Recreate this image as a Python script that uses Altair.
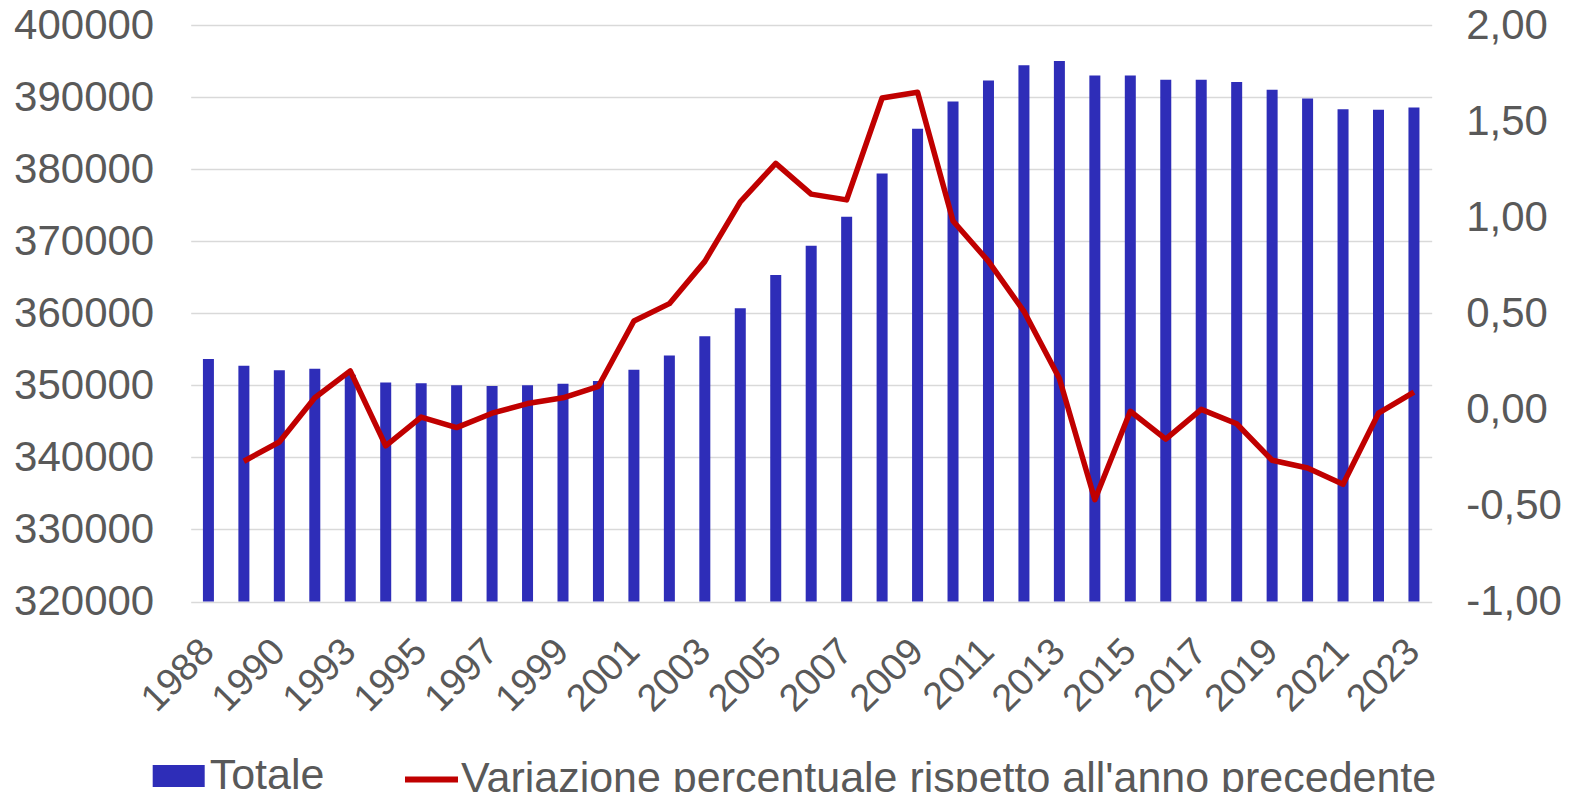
import altair as alt
import pandas as pd

# ---- data ----
anni = ["1988", "1989", "1990", "1991", "1993", "1994", "1995", "1996", "1997",
        "1998", "1999", "2000", "2001", "2002", "2003", "2004", "2005", "2006",
        "2007", "2008", "2009", "2010", "2011", "2012", "2013", "2014", "2015",
        "2016", "2017", "2018", "2019", "2020", "2021", "2022", "2023"]

totale = [353650, 352700, 352100, 352300, 351450, 350400, 350300, 350000, 349900,
          350000, 350200, 350600, 352150, 354150, 356800, 360700, 365300, 369350,
          373400, 379400, 385600, 389400, 392300, 394400, 395000, 393000, 393000,
          392400, 392400, 392100, 391000, 389800, 388300, 388250, 388550]

variazione = [None, -0.27, -0.17, 0.06, 0.20, -0.19, -0.04, -0.095, -0.02,
              0.03, 0.06, 0.12, 0.46, 0.55, 0.77, 1.08, 1.28, 1.12,
              1.09, 1.62, 1.65, 0.98, 0.77, 0.51, 0.16, -0.47, -0.01,
              -0.155, 0.0, -0.075, -0.265, -0.305, -0.39, -0.02, 0.09]

etichette_x = ["1988", "1990", "1993", "1995", "1997", "1999", "2001", "2003",
               "2005", "2007", "2009", "2011", "2013", "2015", "2017", "2019",
               "2021", "2023"]
tick_sx = [320000, 330000, 340000, 350000, 360000, 370000, 380000, 390000, 400000]
tick_dx = [-1.0, -0.5, 0.0, 0.5, 1.0, 1.5, 2.0]

serie_barre = "Totale"
serie_linea = "Variazione percentuale rispetto all'anno precedente"

df = pd.DataFrame({
    "anno": anni,
    "totale": totale,
    "variazione": variazione,
    "s1": serie_barre,
    "s2": serie_linea,
})

FONT = "Liberation Sans"
GREY = "#595959"
BLUE = "#2E2DB8"
RED = "#C00000"

x_enc = alt.X(
    "anno:O", sort=None,
    scale=alt.Scale(paddingInner=0, paddingOuter=0),
    axis=alt.Axis(values=etichette_x, labelAngle=315, labelAlign="right",
                  labelBaseline="middle", labelFontSize=38, labelColor=GREY,
                  labelFont=FONT, labelPadding=44, ticks=False, tickSize=0,
                  domain=False, grid=False, title=None, labelOverlap=False),
)

bars = alt.Chart(df).mark_bar(size=11, clip=True).encode(
    x=x_enc,
    y=alt.Y("totale:Q",
            scale=alt.Scale(domain=[320000, 400000], nice=False, zero=False),
            axis=alt.Axis(orient="left", values=tick_sx, format="d",
                          labelFontSize=42, labelColor=GREY, labelFont=FONT,
                          labelPadding=37, ticks=False, tickSize=0, domain=False,
                          grid=True, gridColor="#D9D9D9", gridWidth=1.5,
                          title=None)),
    color=alt.Color("s1:N",
                    scale=alt.Scale(domain=[serie_barre], range=[BLUE]),
                    legend=alt.Legend(orient="none", legendX=-38, legendY=725,
                                      direction="horizontal", title=None,
                                      symbolType="M-1,-0.42H1V0.42H-1Z",
                                      symbolSize=2704, symbolStrokeWidth=0,
                                      labelFontSize=43, labelColor=GREY,
                                      labelFont=FONT, labelOffset=5, padding=0,
                                      labelLimit=1500)),
)

line = alt.Chart(df).mark_line(strokeWidth=5.5, strokeJoin="round").encode(
    x=x_enc,
    y=alt.Y("variazione:Q",
            scale=alt.Scale(domain=[-1, 2], nice=False, zero=False),
            axis=alt.Axis(orient="right", values=tick_dx,
                          labelExpr="(datum.value < 0 ? '-' : '') + replace(format(abs(datum.value), '.2f'), '.', ',')",
                          labelFontSize=42, labelColor=GREY, labelFont=FONT,
                          labelPadding=34, ticks=False, tickSize=0, domain=False,
                          grid=False, title=None)),
    stroke=alt.Stroke("s2:N",
                      scale=alt.Scale(domain=[serie_linea], range=[RED]),
                      legend=alt.Legend(orient="none", legendX=211.3, legendY=725,
                                        direction="horizontal", title=None,
                                        symbolType="stroke", symbolSize=2809,
                                        symbolStrokeWidth=6,
                                        labelFontSize=43, labelColor=GREY,
                                        labelFont=FONT, labelOffset=0, padding=0,
                                        labelLimit=1500)),
)

chart = alt.layer(bars, line).resolve_scale(
    y="independent", color="independent", stroke="independent"
).properties(
    width=1241,
    height=576.5,
    autosize=alt.AutoSizeParams(type="none"),
    padding={"left": 182.7, "top": 17, "right": 130, "bottom": 190},
    background="white",
).configure_view(stroke=None)

chart.save("out.html", embed_options={"renderer": "svg", "actions": False})
